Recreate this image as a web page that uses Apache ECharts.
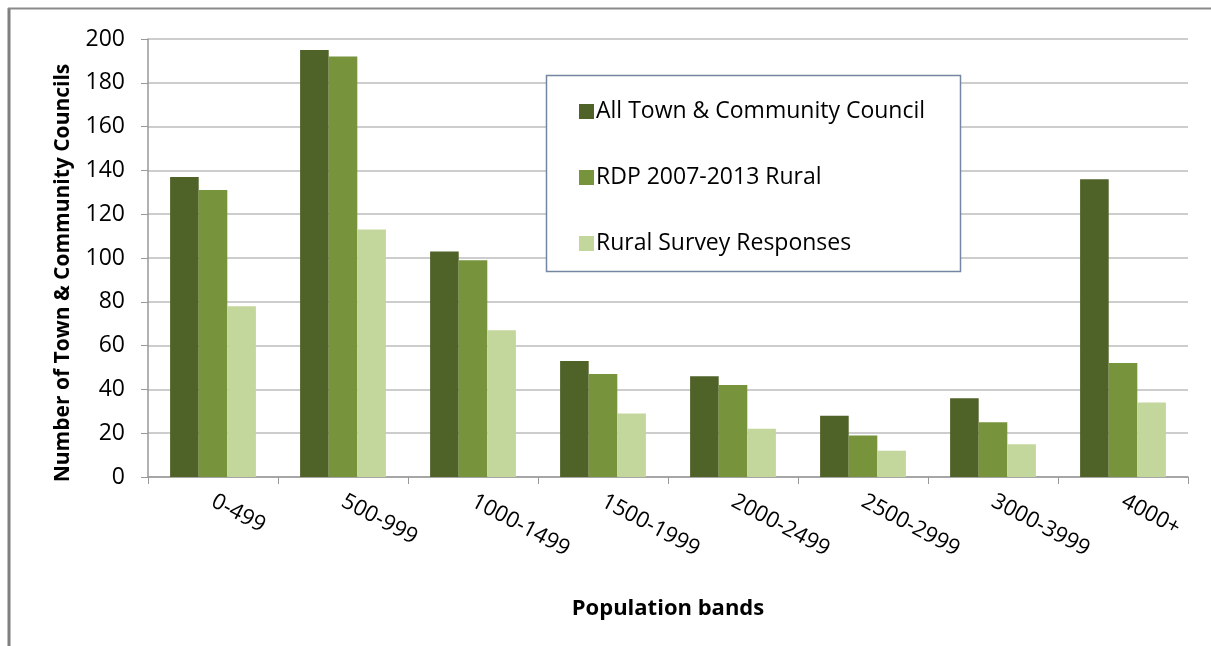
<!DOCTYPE html>
<html><head><meta charset="utf-8">
<script src="https://cdn.jsdelivr.net/npm/echarts@6/dist/echarts.min.js"></script>
<style>html,body{margin:0;padding:0;background:#fff}#c{width:1211px;height:646px}</style>
</head><body><div id="c"></div>
<script>
const categories = ['0-499','500-999','1000-1499','1500-1999','2000-2499','2500-2999','3000-3999','4000+'];
const allTown = [137,195,103,53,46,28,36,136];
const rdpRural = [131,192,99,47,42,19,25,52];
const surveyResp = [78,113,67,29,22,12,15,34];
const seriesNames = ['All Town & Community Council','RDP 2007-2013 Rural','Rural Survey Responses'];
const yTicks = [0,20,40,60,80,100,120,140,160,180,200];

const colors = ['#4F6228','#77933C','#C3D69B'];
const font = '"Open Sans", Lato, sans-serif';
const chart = echarts.init(document.getElementById('c'), null, {renderer:'canvas'});
chart.setOption({
  animation:false,
  color:colors,
  graphic:[
    {type:'line', shape:{x1:9,y1:8,x2:9,y2:646}, style:{stroke:'#7f7f7f', lineWidth:3}},
    {type:'line', shape:{x1:8,y1:8.5,x2:1211,y2:8.5}, style:{stroke:'#8a8a8a', lineWidth:2}},
    {type:'rect', shape:{x:546.5,y:75.5,width:414,height:196}, style:{fill:'#fff', stroke:'#7586a3', lineWidth:1.5}, z:10}
  ],
  legend:{
    orient:'vertical', left:574, top:95, itemGap:43, itemWidth:15, itemHeight:15,
    icon:'rect', z:20,
    textStyle:{fontFamily:font, fontSize:23, color:'#000', padding:[0,0,0,-3]},
    data:seriesNames
  },
  grid:{left:148, right:23, top:39, bottom:169},
  xAxis:{
    type:'category', data:categories,
    name:'Population bands', nameLocation:'middle', nameGap:121,
    nameTextStyle:{fontFamily:font, fontSize:22, fontWeight:'bold', color:'#000'},
    axisLine:{lineStyle:{color:'#999', width:1.5}},
    axisTick:{show:true, length:7, lineStyle:{color:'#999'}},
    axisLabel:{rotate:-28, fontFamily:font, fontSize:22, color:'#000', margin:23, interval:0}
  },
  yAxis:{
    type:'value', min:0, max:200, interval:20,
    name:'Number of Town & Community Councils', nameLocation:'middle', nameGap:74,
    nameTextStyle:{fontFamily:font, fontSize:21, fontWeight:'bold', color:'#000', padding:[0,30,0,0]},
    axisLine:{show:true, lineStyle:{color:'#999', width:1.5}},
    axisTick:{show:true, length:7, lineStyle:{color:'#999'}},
    splitLine:{lineStyle:{color:'#bdbdbd', width:1.5}},
    axisLabel:{fontFamily:font, fontSize:23, color:'#000', margin:23,
      formatter:function(v){return yTicks.indexOf(v)>=0?String(v):'';}}
  },
  series:[
    {name:seriesNames[0], type:'bar', data:allTown, barGap:'0%', barCategoryGap:'34%'},
    {name:seriesNames[1], type:'bar', data:rdpRural, barGap:'0%', barCategoryGap:'34%'},
    {name:seriesNames[2], type:'bar', data:surveyResp, barGap:'0%', barCategoryGap:'34%'}
  ]
});
</script></body></html>
